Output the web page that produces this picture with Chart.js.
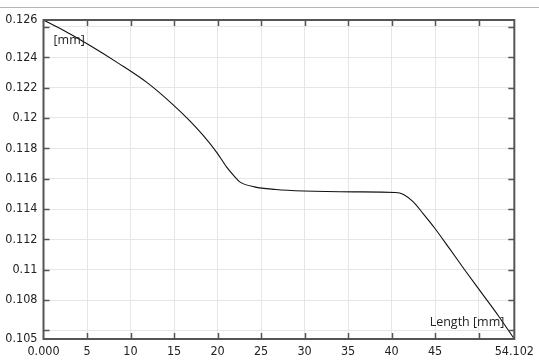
<!DOCTYPE html>
<html lang="en">
<head>
    <meta charset="UTF-8">
    <title>Thickness along length</title>
    <style>
        html, body { margin: 0; padding: 0; background: #fff; }
        .topline { position: absolute; left: 0; top: 7px; width: 539px; height: 0; border-top: 1px solid #b4b4b4; }
        .chartBox { position: absolute; left: 0; top: 0; width: 539px; height: 360px; }
    </style>
</head>
<body>
    <div class="topline"></div>
    <div class="chartBox">
        <canvas id="myChart" width="539" height="360"></canvas>
    </div>

    <script src="https://cdn.jsdelivr.net/npm/chart.js"></script>
    <script>
        // curve
        const lengthMm = [0, 1.86, 5.25, 8.63, 12.02, 14.84, 16.53, 18.42, 19.92, 21.05, 21.99, 22.55, 24.24,
            26.69, 29.89, 35.72, 40.43, 41.37, 42.49, 43.62, 44.94, 46.64, 48.51, 50.40, 52.28, 54.102];
        const thicknessMm = [0.12646, 0.12591, 0.12481, 0.12360, 0.12228, 0.12090, 0.11997, 0.11880, 0.11772,
            0.11676, 0.11612, 0.11579, 0.11546, 0.11529, 0.11519, 0.11513, 0.11509, 0.11496, 0.11447, 0.11370,
            0.11275, 0.11140, 0.10990, 0.10842, 0.10695, 0.10543];

        // axis limits and ticks
        const xMin = 0, xMax = 54.102;
        const yMin = 0.10543, yMax = 0.12646;
        const xTicks = [5, 10, 15, 20, 25, 30, 35, 40, 45, 50];
        const yTicks = [0.106, 0.108, 0.110, 0.112, 0.114, 0.116, 0.118, 0.120, 0.122, 0.124, 0.126];
        const xEndLabels = ['0.000', '54.102'];
        const yEndLabels = ['0.105', '0.126'];
        const xHidden = [50];
        const yHidden = [0.106, 0.126];
        const yUnit = '[mm]';
        const xTitle = 'Length [mm]';

        const points = lengthMm.map((x, i) => ({ x: x, y: thicknessMm[i] }));

        const tickFont = { family: '"DejaVu Sans Condensed", "Liberation Sans Narrow", "DejaVu Sans", sans-serif', size: 12.5 };
        const frameColor = '#555';

        function fmt(v) { return String(parseFloat(v.toFixed(3))); }

        // frame, inward tick marks and the two in-plot labels
        const framePlugin = {
            id: 'frame',
            afterDraw(chart) {
                const ctx = chart.ctx, a = chart.chartArea;
                const xs = chart.scales.x, ys = chart.scales.y;
                ctx.save();
                ctx.strokeStyle = frameColor;
                ctx.lineWidth = 2;
                ctx.strokeRect(a.left, a.top, a.right - a.left, a.bottom - a.top);
                ctx.lineWidth = 1.5;
                ctx.beginPath();
                for (const v of yTicks) {
                    const py = Math.round(ys.getPixelForValue(v)) + 0.5;
                    ctx.moveTo(a.left, py); ctx.lineTo(a.left + 6, py);
                    ctx.moveTo(a.right, py); ctx.lineTo(a.right - 6, py);
                }
                for (const v of xTicks) {
                    const px = Math.round(xs.getPixelForValue(v)) + 0.5;
                    ctx.moveTo(px, a.bottom); ctx.lineTo(px, a.bottom - 6);
                    ctx.moveTo(px, a.top); ctx.lineTo(px, a.top + 6);
                }
                ctx.stroke();

                ctx.fillStyle = '#222';
                ctx.font = '12.5px "Open Sans", "DejaVu Sans", sans-serif';
                ctx.textBaseline = 'middle';
                ctx.textAlign = 'left';
                ctx.fillText(yUnit, a.left + 10, a.top + 20);
                ctx.textAlign = 'right';
                ctx.fillText(xTitle, a.right - 10, a.bottom - 17);
                ctx.restore();
            }
        };

        const config = {
            type: 'scatter',
            data: {
                datasets: [{
                    data: points,
                    showLine: true,
                    borderColor: '#111',
                    borderWidth: 1.1,
                    pointRadius: 0,
                    cubicInterpolationMode: 'monotone'
                }]
            },
            options: {
                responsive: false,
                animation: false,
                devicePixelRatio: 1,
                layout: { padding: { left: 0, right: 16, top: 20, bottom: 0 } },
                plugins: { legend: { display: false }, tooltip: { enabled: false } },
                scales: {
                    x: {
                        type: 'linear',
                        min: xMin, max: xMax,
                        afterBuildTicks: s => { s.ticks = [xMin, ...xTicks, xMax].map(v => ({ value: v })); },
                        afterFit: s => { s.height = 21; },
                        ticks: {
                            autoSkip: false, maxRotation: 0, padding: 5,
                            color: '#222', font: tickFont,
                            callback: (v, i, t) => i === 0 ? xEndLabels[0] : i === t.length - 1 ? xEndLabels[1] :
                                (xHidden.includes(v) ? '' : fmt(v))
                        },
                        grid: { color: '#e6e6e6', lineWidth: 1, drawTicks: false },
                        border: { display: false }
                    },
                    y: {
                        type: 'linear',
                        min: yMin, max: yMax,
                        afterBuildTicks: s => { s.ticks = [yMin, ...yTicks, yMax].map(v => ({ value: v })); },
                        afterFit: s => { s.width = 43.5; },
                        ticks: {
                            autoSkip: false, padding: 6,
                            color: '#222', font: tickFont,
                            callback: (v, i, t) => i === 0 ? yEndLabels[0] : i === t.length - 1 ? yEndLabels[1] :
                                (yHidden.some(h => Math.abs(h - v) < 1e-9) ? '' : fmt(v))
                        },
                        grid: { color: '#e6e6e6', lineWidth: 1, drawTicks: false },
                        border: { display: false }
                    }
                }
            },
            plugins: [framePlugin]
        };

        const myChart = new Chart(document.getElementById('myChart'), config);
    </script>
</body>
</html>
